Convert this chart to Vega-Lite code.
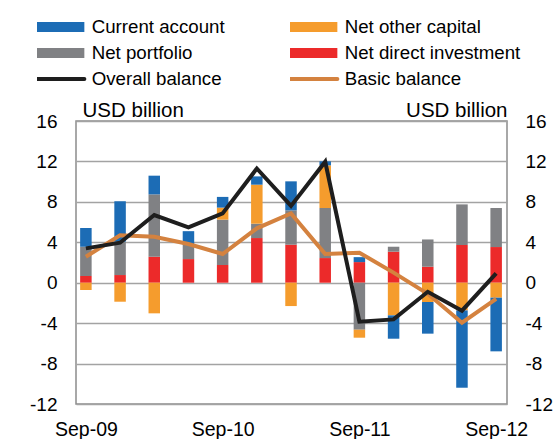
{
  "$schema": "https://vega.github.io/schema/vega-lite/v6.json",
  "width": 431,
  "height": 283,
  "autosize": {"type": "none"},
  "padding": {"left": 76, "top": 121, "right": 50, "bottom": 35},
  "background": "white",
  "config": {
    "font": "Liberation Sans",
    "view": {"stroke": "#8c8c8c", "strokeWidth": 1.5},
    "axis": {"labelColor": "#000000", "titleColor": "#000000", "labelFont": "Liberation Sans", "titleFont": "Liberation Sans"}
  },
  "datasets": {
    "bars": [
      {"q": 0, "series": "Net direct investment", "value": 0.66},
      {"q": 0, "series": "Net portfolio", "value": 2.9},
      {"q": 0, "series": "Net other capital", "value": -0.73},
      {"q": 0, "series": "Current account", "value": 1.85},
      {"q": 1, "series": "Net direct investment", "value": 0.76},
      {"q": 1, "series": "Net portfolio", "value": 3.3},
      {"q": 1, "series": "Net other capital", "value": -1.88},
      {"q": 1, "series": "Current account", "value": 4.0},
      {"q": 2, "series": "Net direct investment", "value": 2.57},
      {"q": 2, "series": "Net portfolio", "value": 6.17},
      {"q": 2, "series": "Net other capital", "value": -3.03},
      {"q": 2, "series": "Current account", "value": 1.85},
      {"q": 3, "series": "Net direct investment", "value": 2.34},
      {"q": 3, "series": "Net portfolio", "value": 1.4},
      {"q": 3, "series": "Net other capital", "value": 0},
      {"q": 3, "series": "Current account", "value": 1.36},
      {"q": 4, "series": "Net direct investment", "value": 1.75},
      {"q": 4, "series": "Net portfolio", "value": 4.49},
      {"q": 4, "series": "Net other capital", "value": 1.19},
      {"q": 4, "series": "Current account", "value": 1.06},
      {"q": 5, "series": "Net direct investment", "value": 4.42},
      {"q": 5, "series": "Net portfolio", "value": 1.42},
      {"q": 5, "series": "Net other capital", "value": 3.86},
      {"q": 5, "series": "Current account", "value": 0.82},
      {"q": 6, "series": "Net direct investment", "value": 3.76},
      {"q": 6, "series": "Net portfolio", "value": 3.4},
      {"q": 6, "series": "Net other capital", "value": -2.31},
      {"q": 6, "series": "Current account", "value": 2.87},
      {"q": 7, "series": "Net direct investment", "value": 2.44},
      {"q": 7, "series": "Net portfolio", "value": 4.95},
      {"q": 7, "series": "Net other capital", "value": 4.22},
      {"q": 7, "series": "Current account", "value": 0.4},
      {"q": 8, "series": "Net direct investment", "value": 2.04},
      {"q": 8, "series": "Net portfolio", "value": -4.65},
      {"q": 8, "series": "Net other capital", "value": -0.79},
      {"q": 8, "series": "Current account", "value": 0.49},
      {"q": 9, "series": "Net direct investment", "value": 3.07},
      {"q": 9, "series": "Net portfolio", "value": 0.49},
      {"q": 9, "series": "Net other capital", "value": -3.23},
      {"q": 9, "series": "Current account", "value": -2.31},
      {"q": 10, "series": "Net direct investment", "value": 1.58},
      {"q": 10, "series": "Net portfolio", "value": 2.7},
      {"q": 10, "series": "Net other capital", "value": -1.91},
      {"q": 10, "series": "Current account", "value": -3.13},
      {"q": 11, "series": "Net direct investment", "value": 3.73},
      {"q": 11, "series": "Net portfolio", "value": 4.02},
      {"q": 11, "series": "Net other capital", "value": -2.74},
      {"q": 11, "series": "Current account", "value": -7.65},
      {"q": 12, "series": "Net direct investment", "value": 3.53},
      {"q": 12, "series": "Net portfolio", "value": 3.86},
      {"q": 12, "series": "Net other capital", "value": -1.48},
      {"q": 12, "series": "Current account", "value": -5.31}
    ],
    "lines": [
      {"q": 0, "series": "Overall balance", "value": 3.4},
      {"q": 1, "series": "Overall balance", "value": 3.96},
      {"q": 2, "series": "Overall balance", "value": 6.7},
      {"q": 3, "series": "Overall balance", "value": 5.47},
      {"q": 4, "series": "Overall balance", "value": 6.86},
      {"q": 5, "series": "Overall balance", "value": 11.3},
      {"q": 6, "series": "Overall balance", "value": 7.6},
      {"q": 7, "series": "Overall balance", "value": 11.97},
      {"q": 8, "series": "Overall balance", "value": -3.86},
      {"q": 9, "series": "Overall balance", "value": -3.63},
      {"q": 10, "series": "Overall balance", "value": -0.9},
      {"q": 11, "series": "Overall balance", "value": -2.77},
      {"q": 12, "series": "Overall balance", "value": 0.92},
      {"q": 0, "series": "Basic balance", "value": 2.57},
      {"q": 1, "series": "Basic balance", "value": 4.7},
      {"q": 2, "series": "Basic balance", "value": 4.55},
      {"q": 3, "series": "Basic balance", "value": 3.83},
      {"q": 4, "series": "Basic balance", "value": 2.84},
      {"q": 5, "series": "Basic balance", "value": 5.38},
      {"q": 6, "series": "Basic balance", "value": 6.86},
      {"q": 7, "series": "Basic balance", "value": 2.84},
      {"q": 8, "series": "Basic balance", "value": 2.97},
      {"q": 9, "series": "Basic balance", "value": 1.0},
      {"q": 10, "series": "Basic balance", "value": -1.1},
      {"q": 11, "series": "Basic balance", "value": -3.96},
      {"q": 12, "series": "Basic balance", "value": -1.6}
    ]
  },
  "layer": [
    {
      "data": {"name": "bars"},
      "transform": [
        {"calculate": "indexof(['Net direct investment','Net portfolio','Net other capital','Current account'], datum.series)", "as": "ord"}
      ],
      "mark": {"type": "bar", "size": 11.5},
      "encoding": {
        "x": {
          "field": "q", "type": "quantitative",
          "scale": {"domain": [-0.143, 12.171], "nice": false, "zero": false},
          "axis": {"values": [0, 4, 8, 12], "labelExpr": "datum.value == 0 ? 'Sep-09' : datum.value == 4 ? 'Sep-10' : datum.value == 8 ? 'Sep-11' : 'Sep-12'", "title": null, "ticks": false, "domain": false, "grid": false, "labelFontSize": 19.5, "labelPadding": 16, "labelFlush": false}
        },
        "y": {
          "field": "value", "type": "quantitative", "stack": "zero",
          "scale": {"domain": [-12, 16], "nice": false, "zero": false},
          "axis": {"orient": "left", "values": [-12, -8, -4, 0, 4, 8, 12, 16], "labelExpr": "datum.value < 0 ? '-' + abs(datum.value) : '' + datum.value", "title": "USD billion", "titleAngle": 0, "titleAlign": "left", "titleBaseline": "alphabetic", "titleX": 6, "titleY": -5, "titleFontSize": 20.5, "titleFontWeight": "normal", "labelFontSize": 19, "labelPadding": 19, "ticks": false, "domain": false, "grid": true, "gridColor": "#a3a3a3", "gridWidth": 1.5}
        },
        "color": {
          "field": "series", "type": "nominal",
          "scale": {
            "domain": ["Current account", "Net portfolio", "Overall balance", "Net other capital", "Net direct investment", "Basic balance"],
            "range": ["#1c6cb5", "#808184", "#1e1e1e", "#f59c2d", "#ec2a2a", "#d4823f"]
          },
          "legend": {
            "title": null, "orient": "none", "legendX": -39, "legendY": -107, "columns": 2, "columnPadding": 65, "rowPadding": 0, "clipHeight": 25.8, "padding": 0,
            "symbolSize": 400, "symbolOffset": 14, "labelOffset": 22, "labelFontSize": 18.7, "labelColor": "#000000", "labelFont": "Liberation Sans", "labelLimit": 300,
            "encode": {
              "symbols": {
                "update": {
                  "shape": {"signal": "indexof(['Overall balance','Basic balance'], datum.value) >= 0 ? 'M-2.4,0H2.4' : 'M-2.4,-0.5H2.4V0.5H-2.4Z'"},
                  "fill": {"signal": "indexof(['Overall balance','Basic balance'], datum.value) >= 0 ? 'transparent' : scale('color', datum.value)"},
                  "stroke": {"signal": "scale('color', datum.value)"},
                  "strokeWidth": {"signal": "indexof(['Overall balance','Basic balance'], datum.value) >= 0 ? 4 : 0"},
                  "strokeCap": {"value": "round"},
                  "size": {"value": 400},
                  "opacity": {"value": 1}
                }
              }
            }
          }
        },
        "order": {"field": "ord", "type": "quantitative"}
      }
    },
    {
      "data": {"name": "lines"},
      "layer": [
        {
          "transform": [{"filter": "datum.series == 'Basic balance'"}],
          "mark": {"type": "line", "strokeWidth": 4, "strokeJoin": "miter"},
          "encoding": {
            "x": {"field": "q", "type": "quantitative", "scale": {"domain": [-0.143, 12.171], "nice": false, "zero": false}, "axis": {"values": [0, 4, 8, 12], "labelExpr": "datum.value == 0 ? 'Sep-09' : datum.value == 4 ? 'Sep-10' : datum.value == 8 ? 'Sep-11' : 'Sep-12'", "title": null, "ticks": false, "domain": false, "grid": false, "labelFontSize": 19.5, "labelPadding": 16, "labelFlush": false}},
            "y": {"field": "value", "type": "quantitative", "scale": {"domain": [-12, 16], "nice": false, "zero": false}, "axis": {"orient": "right", "values": [-12, -8, -4, 0, 4, 8, 12, 16], "labelExpr": "datum.value < 0 ? '-' + abs(datum.value) : '' + datum.value", "title": "USD billion", "titleAngle": 0, "titleAlign": "right", "titleBaseline": "alphabetic", "titleX": 0, "titleY": -5, "titleFontSize": 20.5, "titleFontWeight": "normal", "labelFontSize": 19, "labelPadding": 18, "ticks": false, "domain": false, "grid": false}},
            "color": {"field": "series", "type": "nominal"}
          }
        },
        {
          "transform": [{"filter": "datum.series == 'Overall balance'"}],
          "mark": {"type": "line", "strokeWidth": 4, "strokeJoin": "miter"},
          "encoding": {
            "x": {"field": "q", "type": "quantitative", "scale": {"domain": [-0.143, 12.171], "nice": false, "zero": false}, "axis": {"values": [0, 4, 8, 12], "labelExpr": "datum.value == 0 ? 'Sep-09' : datum.value == 4 ? 'Sep-10' : datum.value == 8 ? 'Sep-11' : 'Sep-12'", "title": null, "ticks": false, "domain": false, "grid": false, "labelFontSize": 19.5, "labelPadding": 16, "labelFlush": false}},
            "y": {"field": "value", "type": "quantitative", "scale": {"domain": [-12, 16], "nice": false, "zero": false}, "axis": {"orient": "right", "values": [-12, -8, -4, 0, 4, 8, 12, 16], "labelExpr": "datum.value < 0 ? '-' + abs(datum.value) : '' + datum.value", "title": "USD billion", "titleAngle": 0, "titleAlign": "right", "titleBaseline": "alphabetic", "titleX": 0, "titleY": -5, "titleFontSize": 20.5, "titleFontWeight": "normal", "labelFontSize": 19, "labelPadding": 18, "ticks": false, "domain": false, "grid": false}},
            "color": {"field": "series", "type": "nominal"}
          }
        }
      ]
    }
  ],
  "resolve": {"scale": {"y": "independent"}}
}
